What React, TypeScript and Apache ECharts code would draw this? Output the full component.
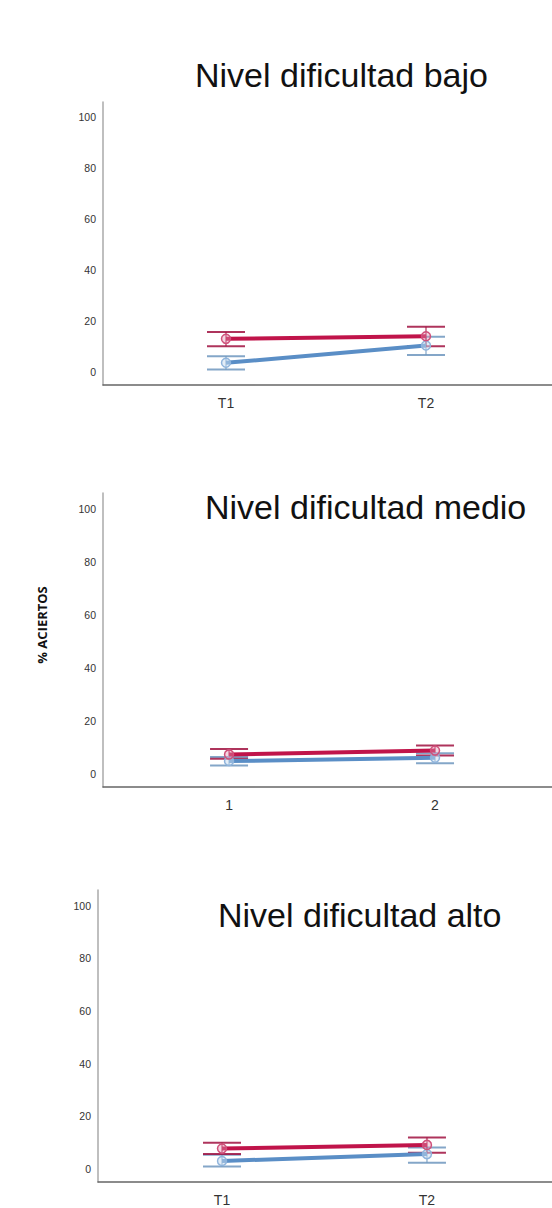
import React, { useEffect, useRef } from "react";
import * as echarts from "echarts";

const tickValues = [0, 20, 40, 60, 80, 100];
const panelTitles = ["Nivel dificultad bajo", "Nivel dificultad medio", "Nivel dificultad alto"];
const panelXLabels = [["T1", "T2"], ["1", "2"], ["T1", "T2"]];
const timePoints = [1, 2];

// bajo
const bajoRedMean = [13.1, 14.1];
const bajoRedLow = [10.2, 10.2];
const bajoRedHigh = [15.8, 17.8];
const bajoBlueMean = [3.7, 10.5];
const bajoBlueLow = [1.1, 6.8];
const bajoBlueHigh = [6.3, 13.9];
// medio
const medioRedMean = [7.3, 8.8];
const medioRedLow = [5.7, 6.9];
const medioRedHigh = [9.3, 10.7];
const medioBlueMean = [4.8, 6.0];
const medioBlueLow = [3.1, 4.0];
const medioBlueHigh = [6.3, 7.7];
// alto
const altoRedMean = [7.7, 9.1];
const altoRedLow = [5.6, 6.1];
const altoRedHigh = [9.9, 11.9];
const altoBlueMean = [3.0, 5.6];
const altoBlueLow = [0.9, 2.3];
const altoBlueHigh = [5.4, 8.1];

const panels = [
  { red: [bajoRedMean, bajoRedLow, bajoRedHigh], blue: [bajoBlueMean, bajoBlueLow, bajoBlueHigh] },
  { red: [medioRedMean, medioRedLow, medioRedHigh], blue: [medioBlueMean, medioBlueLow, medioBlueHigh] },
  { red: [altoRedMean, altoRedLow, altoRedHigh], blue: [altoBlueMean, altoBlueLow, altoBlueHigh] },
];

// layout
const grids = [
  { left: 103, top: 102, height: 283, xmin: 0.385, xmax: 2.63 },
  { left: 103, top: 493, height: 294, xmin: 0.388, xmax: 2.568 },
  { left: 98, top: 890, height: 292, xmin: 0.395, xmax: 2.61 },
];
const titlePos = [
  { x: 195, y: 75, size: 34 },
  { x: 205, y: 507, size: 34 },
  { x: 218, y: 915, size: 34 },
];

const RED = "#c0144a";
const RED_MARK = "#d0507a";
const RED_BAR = "rgba(160,16,64,0.85)";
const BLUE = "#5a8ec6";
const BLUE_MARK = "#8fb4dc";
const BLUE_BAR = "rgba(110,150,190,0.85)";

function errRender(color: string) {
  return (params: any, api: any) => {
    const x = api.value(0);
    const lo = api.coord([x, api.value(1)]);
    const hi = api.coord([x, api.value(2)]);
    const hw = 19;
    const st = { stroke: color, lineWidth: 2 };
    return {
      type: "group",
      children: [
        { type: "line", shape: { x1: lo[0] - hw, y1: lo[1], x2: lo[0] + hw, y2: lo[1] }, style: st },
        { type: "line", shape: { x1: hi[0] - hw, y1: hi[1], x2: hi[0] + hw, y2: hi[1] }, style: st },
        { type: "line", shape: { x1: lo[0], y1: lo[1], x2: hi[0], y2: hi[1] }, style: { stroke: color, lineWidth: 1.2 } },
      ],
    };
  };
}

export default function App() {
  const ref = useRef<HTMLDivElement>(null);
  useEffect(() => {
    if (!ref.current) return;
    const chart = echarts.init(ref.current, null, { renderer: "svg" });
    const grid: any[] = [];
    const xAxis: any[] = [];
    const yAxis: any[] = [];
    const series: any[] = [];
    grids.forEach((g, i) => {
      grid.push({ left: g.left, top: g.top, height: g.height, right: 0 });
      xAxis.push({
        type: "value",
        gridIndex: i,
        min: g.xmin,
        max: g.xmax,
        splitLine: { show: false },
        axisTick: { show: false },
        axisLine: { show: true, onZero: false, lineStyle: { color: "#666", width: 1.5 } },
        axisLabel: {
          customValues: timePoints,
          formatter: (v: number) => panelXLabels[i][timePoints.indexOf(v)] ?? "",
          color: "#333",
          fontSize: 14,
          fontFamily: "Liberation Sans, Arial, sans-serif",
          margin: 11,
        },
      });
      yAxis.push({
        type: "value",
        gridIndex: i,
        min: -5,
        max: 106,
        splitLine: { show: false },
        axisTick: { show: false },
        axisLine: { show: true, onZero: false, lineStyle: { color: "#aaa", width: 1.5 } },
        axisLabel: {
          customValues: tickValues,
          color: "#333",
          fontSize: 10.5,
          fontFamily: "Liberation Sans, Arial, sans-serif",
          margin: 7,
        },
      });
      const p = panels[i];
      const mk = (arr: number[][]) => timePoints.map((t, k) => [t, arr[1][k], arr[2][k]]);
      series.push({
        type: "custom",
        xAxisIndex: i,
        yAxisIndex: i,
        renderItem: errRender(BLUE_BAR),
        encode: { x: 0, y: [1, 2] },
        data: mk(p.blue),
        z: 2,
      });
      series.push({
        type: "custom",
        xAxisIndex: i,
        yAxisIndex: i,
        renderItem: errRender(RED_BAR),
        encode: { x: 0, y: [1, 2] },
        data: mk(p.red),
        z: 2,
      });
      series.push({
        type: "line",
        xAxisIndex: i,
        yAxisIndex: i,
        data: timePoints.map((t, k) => [t, p.blue[0][k]]),
        lineStyle: { color: BLUE, width: 4 },
        itemStyle: { color: "rgba(200,220,240,0.5)", borderColor: BLUE_MARK, borderWidth: 1.5 },
        symbol: "circle",
        symbolSize: 9,
        z: 3,
      });
      series.push({
        type: "line",
        xAxisIndex: i,
        yAxisIndex: i,
        data: timePoints.map((t, k) => [t, p.red[0][k]]),
        lineStyle: { color: RED, width: 4 },
        itemStyle: { color: "rgba(230,150,180,0.4)", borderColor: RED_MARK, borderWidth: 1.5 },
        symbol: "circle",
        symbolSize: 9,
        z: 4,
      });
    });
    const graphic: any[] = titlePos.map((t, i) => ({
      type: "text",
      x: t.x,
      y: t.y,
      style: {
        text: panelTitles[i],
        fontSize: t.size,
        fontFamily: "Liberation Sans, Arial, sans-serif",
        fill: "#111",
        textAlign: "left",
        textVerticalAlign: "middle",
      },
    }));
    graphic.push({
      type: "text",
      x: 42,
      y: 625,
      rotation: Math.PI / 2,
      style: {
        text: "% ACIERTOS",
        fontSize: 13,
        fontWeight: "bold",
        fontFamily: "Open Sans, Liberation Sans, sans-serif",
        fill: "#111",
        textAlign: "center",
        textVerticalAlign: "middle",
      },
    });
    chart.setOption({
      animation: false,
      backgroundColor: "#fff",
      grid,
      xAxis,
      yAxis,
      series,
      graphic,
    });
    return () => chart.dispose();
  }, []);
  return (
    <div
      ref={ref}
      style={{ position: "fixed", left: 0, top: 0, width: 552, height: 1208, background: "#fff" }}
    />
  );
}
